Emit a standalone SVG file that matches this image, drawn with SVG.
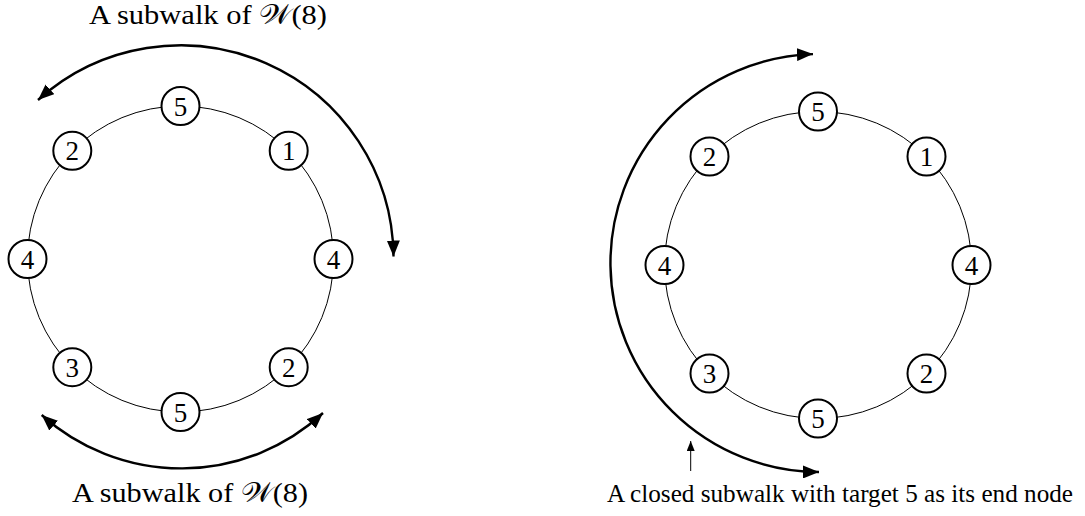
<svg xmlns="http://www.w3.org/2000/svg" width="1085" height="516" viewBox="0 0 1085 516">
  <style>
    .ring { fill: none; stroke: #000; stroke-width: 1; }
    .node circle { fill: #fff; stroke: #000; stroke-width: 2; }
    .node text { font-family: "Liberation Serif", "DejaVu Serif", serif; font-size: 27px; text-anchor: middle; fill: #000; }
    .walk { fill: none; stroke: #000; stroke-width: 2.4; }
    .pointer { fill: none; stroke: #000; stroke-width: 1; }
    .label { font-family: "Liberation Serif", "DejaVu Serif", serif; font-size: 27.5px; fill: #000; }
    .label.wide { font-size: 25.5px; }
  </style>
  <defs>
    <marker id="head" markerUnits="userSpaceOnUse" markerWidth="17" markerHeight="13" refX="16" refY="6.5" orient="auto-start-reverse" viewBox="0 0 17 13">
      <path d="M0,0 L16,6.5 L0,13 Z" fill="#000"/>
    </marker>
    <marker id="small-head" markerUnits="userSpaceOnUse" markerWidth="11" markerHeight="8" refX="10" refY="4" orient="auto" viewBox="0 0 11 8">
      <path d="M0,0 L10,4 L0,8 Z" fill="#000"/>
    </marker>
  </defs>

  <!-- cycle edges -->
  <g id="connectors">
    <circle class="ring" cx="180.5" cy="259" r="153"/>
    <circle class="ring" cx="818" cy="265" r="153.5"/>
  </g>

  <!-- subwalk arrows -->
  <g id="walks">
    <path class="walk" d="M393.5,256.5 A213,213 0 0 0 38,100" marker-start="url(#head)" marker-end="url(#head)"/>
    <path class="walk" d="M41.7,415 A209,209 0 0 0 323,413" marker-start="url(#head)" marker-end="url(#head)"/>
    <path class="walk" d="M813,54.1 A209,209 0 0 0 819,472" marker-start="url(#head)" marker-end="url(#head)"/>
    <line class="pointer" x1="690.7" y1="471" x2="690.7" y2="441" marker-end="url(#small-head)"/>
  </g>

  <!-- left cycle -->
  <g id="L-top5" class="node"><circle cx="180.5" cy="106" r="19"/><text x="180.5" y="115.5">5</text></g>
  <g id="L-n1" class="node"><circle cx="288.7" cy="150.8" r="19"/><text x="288.7" y="160.3">1</text></g>
  <g id="L-r4" class="node"><circle cx="333.5" cy="259" r="19"/><text x="333.5" y="268.5">4</text></g>
  <g id="L-br2" class="node"><circle cx="288.7" cy="367.2" r="19"/><text x="288.7" y="376.7">2</text></g>
  <g id="L-bot5" class="node"><circle cx="180.5" cy="412" r="19"/><text x="180.5" y="421.5">5</text></g>
  <g id="L-n3" class="node"><circle cx="72.3" cy="367.2" r="19"/><text x="72.3" y="376.7">3</text></g>
  <g id="L-l4" class="node"><circle cx="27.5" cy="259" r="19"/><text x="27.5" y="268.5">4</text></g>
  <g id="L-tl2" class="node"><circle cx="72.3" cy="150.8" r="19"/><text x="72.3" y="160.3">2</text></g>

  <!-- right cycle -->
  <g id="R-top5" class="node"><circle cx="818" cy="111.5" r="19"/><text x="818" y="121">5</text></g>
  <g id="R-n1" class="node"><circle cx="926.5" cy="156.5" r="19"/><text x="926.5" y="166">1</text></g>
  <g id="R-r4" class="node"><circle cx="971.5" cy="265" r="19"/><text x="971.5" y="274.5">4</text></g>
  <g id="R-br2" class="node"><circle cx="926.5" cy="373.5" r="19"/><text x="926.5" y="383">2</text></g>
  <g id="R-bot5" class="node"><circle cx="818" cy="418.5" r="19"/><text x="818" y="428">5</text></g>
  <g id="R-n3" class="node"><circle cx="709.5" cy="373.5" r="19"/><text x="709.5" y="383">3</text></g>
  <g id="R-l4" class="node"><circle cx="664.5" cy="265" r="19"/><text x="664.5" y="274.5">4</text></g>
  <g id="R-tl2" class="node"><circle cx="709.5" cy="156.5" r="19"/><text x="709.5" y="166">2</text></g>

  <!-- captions -->
  <g id="captions">
    <text class="label" x="89" y="23.5" textLength="238" lengthAdjust="spacingAndGlyphs">A subwalk of 𝒲(8)</text>
    <text class="label" x="72" y="501.5" textLength="236" lengthAdjust="spacingAndGlyphs">A subwalk of 𝒲(8)</text>
    <text class="label wide" x="607" y="501.5" textLength="466" lengthAdjust="spacingAndGlyphs">A closed subwalk with target 5 as its end node</text>
  </g>
</svg>
